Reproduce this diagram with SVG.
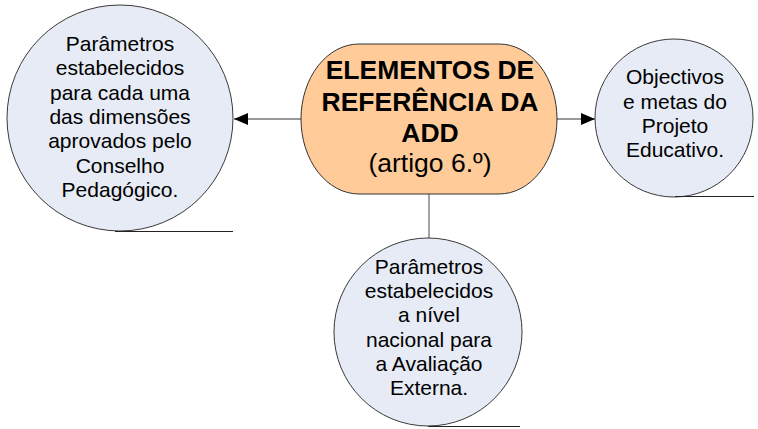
<svg xmlns="http://www.w3.org/2000/svg" width="758" height="429" viewBox="0 0 758 429">
<defs>
<style>
.circ{fill:#E6EBF5;stroke:#3a3a3a;stroke-width:1}
.ul{stroke:#222;stroke-width:1.2;fill:none}
.t{font-family:"Liberation Sans",Arial,sans-serif;font-size:21px;fill:#000;text-anchor:middle}
.tb{font-family:"Liberation Sans",Arial,sans-serif;font-size:26.5px;font-weight:bold;fill:#000;text-anchor:middle}
.tr{font-family:"Liberation Sans",Arial,sans-serif;font-size:26.5px;fill:#000;text-anchor:middle}
.conn{stroke:#333;stroke-width:1.2;fill:none}
</style>
<marker id="ah" markerWidth="14" markerHeight="12" refX="14" refY="6" orient="auto" markerUnits="userSpaceOnUse">
<path d="M0,0 L14,6 L0,12 Z" fill="#000"/>
</marker>
</defs>
<rect width="758" height="429" fill="#fff"/>
<g id="connectors">
<line class="conn" x1="301" y1="119" x2="234" y2="119" marker-end="url(#ah)"/>
<line class="conn" x1="557" y1="119" x2="595" y2="119" marker-end="url(#ah)"/>
<line class="conn" x1="429" y1="194" x2="429" y2="238" style="stroke:#666"/>
</g>
<g id="node-center">
<rect x="301" y="44" width="256" height="150" rx="58" ry="75" fill="#FFCC99" stroke="#333" stroke-width="1"/>
<text class="tb" x="430" y="79">ELEMENTOS DE</text>
<text class="tb" x="430" y="111">REFERÊNCIA DA</text>
<text class="tb" x="430" y="142">ADD</text>
<text class="tr" x="430" y="172">(artigo 6.º)</text>
</g>
<g id="node-left">
<circle class="circ" cx="120" cy="118" r="113"/>
<line class="ul" x1="115" y1="231.5" x2="233" y2="231.5"/>
<text class="t" x="120" y="51">Parâmetros</text>
<text class="t" x="120" y="75">estabelecidos</text>
<text class="t" x="120" y="100">para cada uma</text>
<text class="t" x="120" y="124">das dimensões</text>
<text class="t" x="120" y="148">aprovados pelo</text>
<text class="t" x="120" y="173">Conselho</text>
<text class="t" x="120" y="197">Pedagógico.</text>
</g>
<g id="node-right">
<circle class="circ" cx="674" cy="118" r="79"/>
<line class="ul" x1="675" y1="196.5" x2="754" y2="196.5"/>
<text class="t" x="675" y="84">Objectivos</text>
<text class="t" x="675" y="109">e metas do</text>
<text class="t" x="675" y="133">Projeto</text>
<text class="t" x="675" y="157">Educativo.</text>
</g>
<g id="node-bottom">
<circle class="circ" cx="428" cy="332" r="94"/>
<line class="ul" x1="428" y1="426.5" x2="520" y2="426.5"/>
<text class="t" x="429" y="274">Parâmetros</text>
<text class="t" x="429" y="298">estabelecidos</text>
<text class="t" x="429" y="322">a nível</text>
<text class="t" x="429" y="347">nacional para</text>
<text class="t" x="429" y="371">a Avaliação</text>
<text class="t" x="429" y="395">Externa.</text>
</g>
</svg>
